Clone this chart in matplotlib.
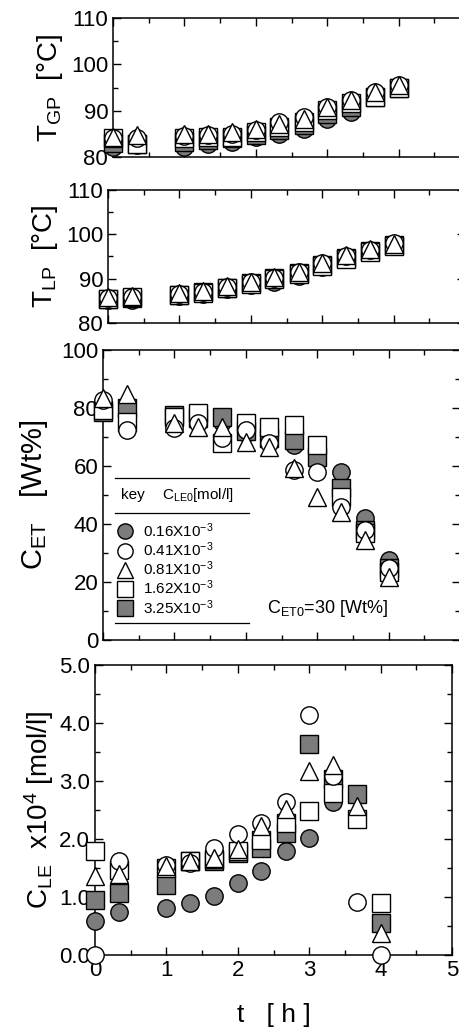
import matplotlib
matplotlib.use('Agg')
import matplotlib.pyplot as plt
from matplotlib.lines import Line2D
from matplotlib.ticker import MultipleLocator
import numpy as np

plt.rcParams['font.family'] = ['Liberation Sans', 'DejaVu Sans']
plt.rcParams['mathtext.default'] = 'regular'

t = [0, 0.33, 1.0, 1.33, 1.67, 2.0, 2.33, 2.67, 3.0, 3.33, 3.67, 4.0]
keys = ['0.16', '0.41', '0.81', '1.62', '3.25']

# gas phase temperature
tgp = {
    '0.16': [82.2, 82.5, 82.2, 82.9, 83.3, 84.3, 85.0, 86.1, 88.3, 89.8, 93.4, 95.0],
    '0.41': [84.0, 84.2, 84.5, 84.7, 85.0, 85.8, 87.6, 88.7, 90.8, 92.3, 94.1, 95.5],
    '0.81': [84.3, 84.7, 85.0, 85.0, 85.4, 86.1, 87.2, 88.3, 90.8, 92.3, 94.1, 95.5],
    '1.62': [84.0, 82.9, 84.0, 84.3, 84.3, 85.4, 86.5, 87.6, 90.1, 91.6, 93.0, 94.8],
    '3.25': [83.0, 82.7, 83.2, 83.6, 84.0, 84.8, 85.8, 86.9, 89.2, 90.8, 93.0, 94.8],
}
# liquid phase temperature
tlp = {
    '0.16': [85.3, 85.2, 86.2, 86.5, 87.6, 88.6, 89.2, 90.6, 92.7, 94.5, 96.0, 97.6],
    '0.41': [85.6, 85.8, 86.5, 87.0, 88.2, 89.3, 90.2, 91.5, 93.5, 95.0, 96.5, 98.0],
    '0.81': [85.8, 86.0, 86.8, 87.2, 88.3, 89.2, 90.3, 91.6, 93.5, 95.3, 96.8, 97.9],
    '1.62': [85.4, 85.8, 86.3, 86.8, 87.8, 88.8, 90.0, 91.0, 92.8, 94.5, 96.0, 97.3],
    '3.25': [85.5, 85.6, 86.4, 86.9, 88.0, 89.0, 90.1, 91.3, 93.0, 94.7, 96.3, 97.6],
}
# ethanol concentration
cet = {
    '0.16': [80.0, 80.5, 76.0, 76.4, 75.3, 71.5, 69.0, 67.2, 62.0, 58.0, 42.0, 27.6],
    '0.41': [82.8, 72.4, 73.0, 74.7, 69.5, 72.4, 67.8, 58.6, 58.0, 46.0, 38.0, 25.0],
    '0.81': [83.3, 85.0, 74.7, 73.6, 73.6, 68.4, 66.7, 59.2, 49.4, 44.3, 34.5, 21.8],
    '1.62': [79.3, 75.3, 77.0, 78.2, 67.8, 74.7, 73.6, 74.1, 67.2, 49.4, 36.8, 23.6],
    '3.25': [78.7, 80.0, 77.6, 76.5, 77.0, 72.0, 69.5, 69.0, 63.2, 52.3, 38.0, 24.7],
}
# lipase concentration x1e4
cle = {
    '0.16': [0.58, 0.75, 0.81, 0.90, 1.01, 1.24, 1.45, 1.79, 2.02, 2.63, np.nan, np.nan],
    '0.41': [0.00, 1.62, 1.56, 1.59, 1.85, 2.08, 2.28, 2.63, 4.13, 3.09, 0.92, 0.00],
    '0.81': [1.36, 1.39, 1.53, 1.62, 1.68, 1.82, 2.23, 2.51, 3.18, 3.27, 2.57, 0.38],
    '1.62': [1.79, 1.47, 1.50, 1.62, 1.65, 1.79, 1.99, 2.28, 2.49, 2.80, 2.34, 0.90],
    '3.25': [0.95, 1.07, 1.21, 1.62, 1.62, 1.76, 1.85, 2.11, 3.64, 3.03, 2.77, 0.55],
}

gray = '#7c7c7c'
style = {
    '0.16': dict(marker='o', mfc=gray),
    '3.25': dict(marker='s', mfc=gray),
    '1.62': dict(marker='s', mfc='white'),
    '0.41': dict(marker='o', mfc='white'),
    '0.81': dict(marker='^', mfc='white'),
}
order = ['0.16', '3.25', '1.62', '0.41', '0.81']
MS = 12.5

fig = plt.figure(figsize=(4.59, 10.30), dpi=100)
W = 357 / 459
ax1 = fig.add_axes([113 / 459, 1 - 157 / 1030, W, 139 / 1030])
ax2 = fig.add_axes([108 / 459, 1 - 323 / 1030, W, 133 / 1030])
ax3 = fig.add_axes([103 / 459, 1 - 640 / 1030, W, 290 / 1030])
ax4 = fig.add_axes([95 / 459, 1 - 955 / 1030, W, 290 / 1030])


def draw(ax, data):
    for k in order:
        ax.plot(t, data[k], ls='none', mec='black', mew=1.0, ms=MS,
                clip_on=False, zorder=3, **style[k])
    ax.set_xlim(0, 5)
    ax.xaxis.set_major_locator(MultipleLocator(1))
    ax.xaxis.set_minor_locator(MultipleLocator(0.5))
    ax.tick_params(which='both', direction='in', top=True, right=True,
                   labelsize=16, width=1.0)
    ax.tick_params(which='major', length=6)
    ax.tick_params(which='minor', length=3.5)
    for s in ax.spines.values():
        s.set_linewidth(1.1)


draw(ax1, tgp)
ax1.set_ylim(80, 110)
ax1.yaxis.set_major_locator(MultipleLocator(10))
ax1.yaxis.set_minor_locator(MultipleLocator(5))
ax1.set_xticklabels([])
ax1.set_ylabel('T$_{GP}$  [°C]', fontsize=20, labelpad=4)

draw(ax2, tlp)
ax2.set_ylim(80, 110)
ax2.yaxis.set_major_locator(MultipleLocator(10))
ax2.yaxis.set_minor_locator(MultipleLocator(5))
ax2.set_xticklabels([])
ax2.set_ylabel('T$_{LP}$  [°C]', fontsize=20, labelpad=4)

draw(ax3, cet)
ax3.set_ylim(0, 100)
ax3.yaxis.set_major_locator(MultipleLocator(20))
ax3.yaxis.set_minor_locator(MultipleLocator(10))
ax3.set_xticklabels([])
ax3.set_ylabel('C$_{ET}$   [Wt%]', fontsize=21, labelpad=8)

draw(ax4, cle)
ax4.set_ylim(0, 5)
ax4.yaxis.set_major_locator(MultipleLocator(1))
ax4.yaxis.set_minor_locator(MultipleLocator(0.5))
ax4.yaxis.set_major_formatter(matplotlib.ticker.FormatStrFormatter('%.1f'))
ax4.set_ylabel('C$_{LE}$  x10$^{4}$ [mol/l]', fontsize=20, labelpad=2)
ax4.set_xlabel('t   [ h ]', fontsize=19, labelpad=16)

# key box in the C_ET panel
handles = [Line2D([], [], ls='none', mec='black', mew=1.0, ms=11, **style[k])
           for k in keys]
labels = [k + 'X10$^{-3}$' for k in keys]
leg = ax3.legend(handles, labels, loc='upper left', bbox_to_anchor=(0.04, 0.41),
                 frameon=False, fontsize=11, labelspacing=0.04, handlelength=1.0,
                 handletextpad=0.7, borderaxespad=0, borderpad=0.0)
for x0, x1, y in [(0.034, 0.41, 0.559), (0.034, 0.41, 0.438), (0.034, 0.41, 0.059)]:
    ax3.plot([x0, x1], [y, y], color='black', lw=0.9, transform=ax3.transAxes)
ax3.text(0.05, 0.50, 'key', fontsize=11, transform=ax3.transAxes, va='center')
ax3.text(0.165, 0.50, 'C$_{LE0}$[mol/l]', fontsize=11, transform=ax3.transAxes,
         va='center')
ax3.text(0.46, 0.11, 'C$_{ET0}$=30 [Wt%]', fontsize=13, transform=ax3.transAxes,
         va='center')

fig.savefig('out.png', dpi=100)
